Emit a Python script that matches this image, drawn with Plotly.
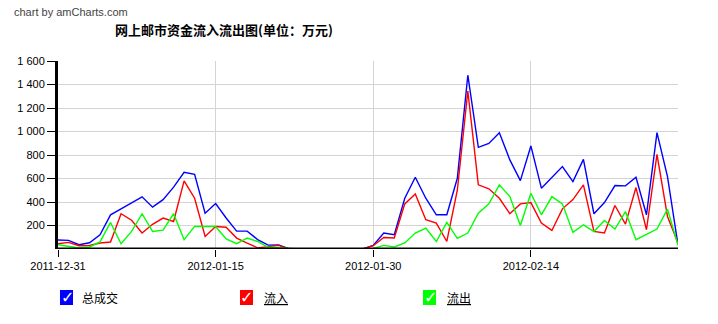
import pandas as pd
import plotly.graph_objects as go

# ---- data ----
start_date = "2011-12-31"
n_days = 60
dates = pd.date_range(start_date, periods=n_days, freq="D")

total = [76, 73, 36, 53, 121, 291, 342, 395, 444, 356,
         420, 527, 653, 635, 305, 387, 264, 152, 152, 80,
         33, 35, 0, 0, 0, 0, 0, 0, 0, 0,
         30, 136, 121, 432, 611, 432, 291, 291, 602, 1479,
         865, 899, 989, 758, 582, 877, 518, 611, 701, 574,
         763, 300, 395, 540, 537, 611, 291, 990, 616, 36]
inflow = [45, 56, 28, 30, 51, 59, 300, 245, 136, 210,
          263, 234, 580, 432, 107, 192, 185, 93, 51, 10,
          20, 31, 0, 0, 0, 0, 0, 0, 0, 0,
          28, 98, 93, 384, 469, 249, 221, 64, 500, 1345,
          546, 512, 432, 300, 384, 395, 221, 158, 342, 420,
          546, 149, 136, 370, 212, 523, 164, 806, 277, 51]
outflow = [36, 22, 8, 17, 60, 226, 45, 150, 300, 150,
           160, 300, 79, 192, 192, 192, 85, 45, 93, 64,
           15, 10, 0, 0, 0, 0, 0, 0, 0, 0,
           5, 31, 17, 51, 136, 178, 64, 226, 90, 136,
           305, 384, 546, 446, 200, 475, 291, 446, 384, 141,
           206, 149, 243, 170, 319, 79, 121, 170, 339, 31]

series_names = ["总成交", "流入", "流出"]
series_colors = ["#0000FF", "#FF0000", "#00FF00"]
legend_labels = ["总成交", "<u>流入</u>", "<u>流出</u>"]

y_tickvals = [200, 400, 600, 800, 1000, 1200, 1400, 1600]
y_ticktext = ["200", "400", "600", "800", "1 000", "1 200", "1 400", "1 600"]
x_tickvals = ["2011-12-31", "2012-01-15", "2012-01-30", "2012-02-14"]

title_text = "<b>网上邮市资金流入流出图(单位：万元)</b>"
credit_text = "chart by amCharts.com"

# ---- layout geometry (pixels) ----
W, H = 718, 324
L, R, T, B = 58, 678, 61, 249


def xp(px):
    return (px - L) / (R - L)


def yp(py):
    return (B - py) / (B - T)


fig = go.Figure()
for name, vals, col in zip(series_names, [total, inflow, outflow], series_colors):
    fig.add_trace(go.Scatter(x=dates, y=vals, mode="lines", name=name,
                             line=dict(color=col, width=1.4), showlegend=False))

fig.update_layout(
    width=W, height=H,
    margin=dict(l=L, r=W - R, t=T, b=H - B, pad=0),
    paper_bgcolor="white", plot_bgcolor="white",
    font=dict(family="Liberation Sans, Arial, sans-serif", size=11, color="black"),
    title=dict(text=title_text, x=224 / W, xanchor="center", y=1 - 30 / H, yanchor="middle",
               font=dict(family="Noto Sans CJK SC", size=13, color="black")),
)

fig.update_xaxes(
    type="date", range=[dates[0], dates[-1]],
    tickvals=x_tickvals, ticktext=x_tickvals,
    showgrid=True, gridcolor="#D4D4D4", gridwidth=1,
    showline=False, zeroline=False,
    ticks="outside", ticklen=7, tickcolor="black", tickwidth=1,
    tickfont=dict(size=11, color="black"),
)
fig.update_yaxes(
    range=[0, 1600], tickvals=y_tickvals, ticktext=y_ticktext,
    showgrid=True, gridcolor="#D4D4D4", gridwidth=1,
    showline=True, linecolor="black", linewidth=3,
    zeroline=False,
    ticks="outside", ticklen=8, tickcolor="black", tickwidth=1,
    tickfont=dict(size=11, color="black"),
)

# x axis baseline drawn above the traces (as in the original)
fig.add_shape(type="line", xref="paper", yref="y", x0=-0.003, x1=1, y0=0, y1=0,
              line=dict(color="black", width=3), layer="above")

# credit text
fig.add_annotation(text=credit_text, xref="paper", yref="paper",
                   x=xp(12), y=yp(12), xanchor="left", yanchor="middle", showarrow=False,
                   font=dict(family="Liberation Sans, Arial", size=11, color="#444444"))

# legend (checkbox style)
box_x = [66, 246, 429]
text_x = [80, 262, 445]
leg_y = 297
for bx, tx, col, lab in zip(box_x, text_x, series_colors, legend_labels):
    fig.add_shape(type="rect", xref="paper", yref="paper",
                  x0=xp(bx - 6), x1=xp(bx + 7), y0=yp(leg_y + 8), y1=yp(leg_y - 7),
                  fillcolor=col, line=dict(width=0), layer="above")
    fig.add_annotation(text="<b>✓</b>", xref="paper", yref="paper",
                       x=xp(bx + 1), y=yp(leg_y), xanchor="center", yanchor="middle",
                       showarrow=False,
                       font=dict(family="DejaVu Sans", size=16, color="white"))
    fig.add_annotation(text=lab, xref="paper", yref="paper",
                       x=xp(tx), y=yp(leg_y), xanchor="left", yanchor="middle",
                       showarrow=False,
                       font=dict(family="Noto Sans CJK SC", size=12, color="black"))

fig.write_html("out.html")
